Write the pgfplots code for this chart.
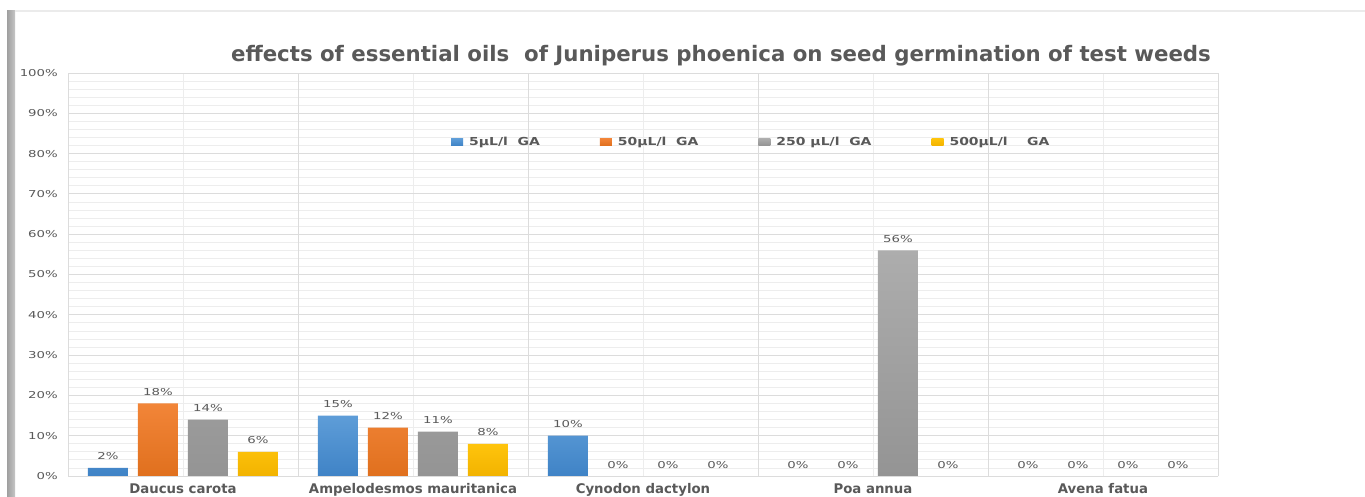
\documentclass[border=0pt]{standalone}
\usepackage{pgfplots}
\pgfplotsset{compat=1.18}
\usepackage{fontspec}
\setmainfont{DejaVu Sans}
\newfontfamily\lblfont[FakeStretch=1.4]{DejaVu Sans}
\newfontfamily\legfont[FakeStretch=1.27]{DejaVu Sans}
\definecolor{txt}{HTML}{595959}
\definecolor{gridmaj}{HTML}{DCDCDC}
\definecolor{gridmin}{HTML}{EDEDED}
\definecolor{blueT}{HTML}{5E9DD8}
\definecolor{blueB}{HTML}{3F83C6}
\definecolor{orT}{HTML}{F28538}
\definecolor{orB}{HTML}{E0701E}
\definecolor{grT}{HTML}{ADADAD}
\definecolor{grB}{HTML}{949494}
\definecolor{yeT}{HTML}{FFC40C}
\definecolor{yeB}{HTML}{F2B300}
\begin{document}
\begin{tikzpicture}
\useasboundingbox (0,0) rectangle (1365bp,497bp);
\fill[white] (0,0) rectangle (1365bp,497bp);
\shade[left color=gray!75, right color=gray!45] (7bp,0) rectangle (15bp,486bp);
\fill[black!8] (15bp,485bp) rectangle (1365bp,486.5bp);
\node[anchor=base, text=txt, font=\bfseries\fontsize{21.3bp}{25bp}\selectfont, inner sep=0pt] at (721bp,435bp) {effects of essential oils\ \ of Juniperus phoenica on seed germination of test weeds};
\begin{axis}[
  at={(68bp,21bp)}, anchor=south west,
  width=1150bp, height=403bp, scale only axis,
  ybar, bar width=40bp,
  xmin=-0.5, xmax=4.5, ymin=0, ymax=100,
  xtick={0,1,2,3,4},
  xticklabels={Daucus carota, Ampelodesmos mauritanica, Cynodon dactylon, Poa annua, Avena fatua},
  minor xtick={0,1,2,3,4},
  extra x ticks={-0.5,0.5,1.5,2.5,3.5,4.5},
  extra x tick labels={},
  extra x tick style={xmajorgrids=true, xminorgrids=false, major grid style={draw=gridmaj, line width=0.8bp}},
  ytick={0,10,...,100},
  minor ytick={2,4,6,8,12,14,16,18,22,24,26,28,32,34,36,38,42,44,46,48,52,54,56,58,62,64,66,68,72,74,76,78,82,84,86,88,92,94,96,98},
  major tick length=0pt, minor tick length=0pt,
  xmajorgrids=false, xminorgrids, ymajorgrids, yminorgrids,
  major grid style={draw=gridmaj, line width=0.8bp},
  minor grid style={draw=gridmin, line width=0.8bp},
  axis line style={draw=none},
  yticklabel={\pgfmathprintnumber[assume math mode=true]{\tick}\%},
  yticklabel style={font=\lblfont\fontsize{9.5bp}{11bp}\selectfont, text=txt, anchor=east, inner sep=0pt, xshift=-10bp},
  xticklabel style={font=\bfseries\fontsize{13.3bp}{15bp}\selectfont, text=txt, anchor=base, inner sep=0pt, yshift=-17.5bp},
  nodes near coords={\pgfmathprintnumber[assume math mode=true]{\pgfplotspointmeta}\%},
  every node near coord/.append style={font=\lblfont\fontsize{9.5bp}{11bp}\selectfont, text=txt, anchor=base, inner sep=0pt, yshift=8bp},
  legend columns=4,
  legend style={at={(axis description cs:0.3330,0.8288)}, anchor=west, draw=none, fill=none, inner sep=0pt,
    font=\legfont\bfseries\fontsize{11bp}{13bp}\selectfont, text=txt,
    nodes={inner sep=0pt},
    /tikz/every even column/.append style={column sep=60bp},
    /tikz/every odd column/.append style={column sep=6bp}},
  legend image code/.code={\path[#1,draw=none] (0bp,-3.5bp) rectangle (12bp,3.5bp);},
]
% 5 uL/l GA
\addplot[draw=none, top color=blueT, bottom color=blueB, bar shift=-75bp] coordinates {(0,2) (1,15) (2,10)};
\addlegendentry{5µL/l\ \ GA}
% 50 uL/l GA
\addplot[draw=none, top color=orT, bottom color=orB, bar shift=-25bp] coordinates {(0,18) (1,12)};
\addlegendentry{50µL/l\ \ GA}
% 250 uL/l GA
\addplot[draw=none, top color=grT, bottom color=grB, bar shift=25bp] coordinates {(0,14) (1,11) (3,56)};
\addlegendentry{250 µL/l\ \ GA}
% 500 uL/l GA
\addplot[draw=none, top color=yeT, bottom color=yeB, bar shift=75bp] coordinates {(0,6) (1,8)};
\addlegendentry{500µL/l\ \ \ \ GA}
% zero values (labels only)
\addplot[draw=none, fill=none, bar shift=-75bp, forget plot] coordinates {(3,0) (4,0)};
\addplot[draw=none, fill=none, bar shift=-25bp, forget plot] coordinates {(2,0) (3,0) (4,0)};
\addplot[draw=none, fill=none, bar shift=25bp, forget plot] coordinates {(2,0) (4,0)};
\addplot[draw=none, fill=none, bar shift=75bp, forget plot] coordinates {(2,0) (3,0) (4,0)};
\end{axis}
\end{tikzpicture}
\end{document}
